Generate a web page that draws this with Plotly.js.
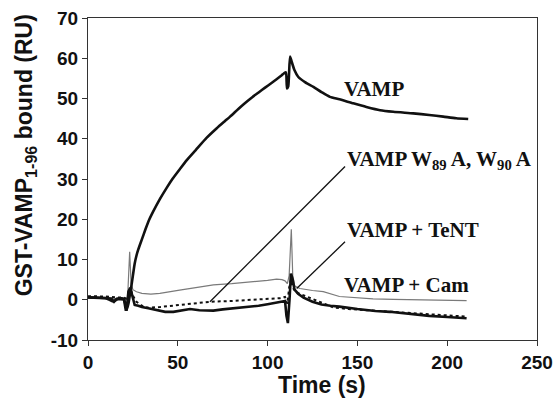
<!DOCTYPE html>
<html>
<head>
<meta charset="utf-8">
<script src="https://cdn.plot.ly/plotly-3.0.1.min.js"></script>
<style>html,body{margin:0;padding:0;background:#fff;}#chart{width:553px;height:403px;}</style>
</head>
<body>
<div id="chart"></div>
<script>
// VAMP (thick black, large binding)
const vampT = [0, 5, 10, 14, 17, 20, 21.5, 22.5, 23.4, 24, 25, 26, 27, 28, 30, 32, 34, 36.4, 40, 43.8, 47, 51.2, 55, 60, 66, 71.7, 76, 79.1, 83.7, 87, 91.1, 95, 98.6, 102, 105, 107.9, 109, 110.2, 110.8, 111.5, 112.5, 113.5, 115, 117, 121, 125.5, 130, 134.7, 140, 147.7, 155, 162.6, 170, 181.1, 190, 197.8, 205, 211.7];
const vampY = [0.6, 0.5, 0.4, -0.4, 0.3, 0.2, -2.5, -1.0, 1.5, 3, 6, 9, 11, 12.5, 15, 17.5, 19.8, 22, 25, 27.8, 30, 32.5, 34.7, 37.2, 40.2, 42.6, 44.3, 45.5, 47.4, 48.7, 50.2, 51.5, 52.7, 53.8, 54.8, 55.8, 56.2, 56.5, 52.5, 53, 60.4, 59, 57, 55.4, 54, 52.9, 51.6, 50.4, 49.8, 48.8, 47.9, 47.1, 46.7, 46.3, 45.9, 45.5, 45.1, 44.9];

// VAMP + Cam (thin grey)
const camT = [0, 5, 10, 14, 17, 20, 22, 23.2, 24, 25, 27, 30, 35, 40, 45, 51, 60, 69.8, 80, 88.3, 95, 100, 105, 108, 109.7, 111, 112, 113.2, 114, 115, 116, 118, 125, 131, 140, 150, 158.7, 170, 186.6, 200, 210.8];
const camY = [0.7, 0.6, 0.5, 0.2, 0.4, 0.3, 0, 11.9, 4, 2.5, 2.0, 1.6, 1.4, 1.6, 2.0, 2.4, 3.0, 3.7, 4.0, 4.3, 4.6, 4.8, 5.1, 5.0, 4.7, 4.0, 6, 17.5, 6, 3.5, 3.2, 2.8, 2.3, 2.0, 0.8, 0.4, 0.2, 0.1, 0, -0.1, -0.2];

// VAMP W89A, W90A (dotted)
const mutT = [0, 5, 10, 15, 20, 22, 23.5, 25, 27, 30, 33.5, 40, 51.2, 60, 68, 80, 88.3, 100, 106.9, 109.7, 111, 112, 113, 114, 116, 121.7, 130, 136.5, 145, 155, 170, 185, 200, 211];
const mutY = [0.9, 0.9, 0.8, 0.6, 0.5, 0.2, 3, 1, -0.5, -1.5, -2.0, -1.8, -1.3, -0.9, -0.5, -0.3, -0.1, 0.2, 0.4, 0.7, -1, 3, 5, 3, 1.8, 0.8, -0.7, -1.9, -2.3, -2.6, -3.0, -3.5, -3.9, -4.2];

// VAMP + TeNT (thick black, low)
const tentT = [0, 5, 10, 13, 14.5, 16, 20, 21, 21.5, 22.5, 23.5, 25, 26, 28, 30, 33.6, 38, 43, 47.5, 52, 56.8, 62, 69.8, 75, 80, 88.3, 95, 100, 105, 109.7, 110.5, 111.3, 112.2, 113, 114, 115, 117, 120, 125, 130, 135, 140, 150, 160, 168, 180, 190, 200, 210.8];
const tentY = [0.6, 0.5, 0.4, 0.3, -0.5, 0.2, 0.1, -2.5, -2.5, 2, 3, 0, -1.3, -1.5, -1.8, -2.1, -2.6, -3.0, -3.0, -2.7, -2.3, -2.6, -2.7, -2.4, -2.2, -1.9, -1.5, -1.1, -0.7, -0.3, -4, -5.8, 0, 6.5, 5, 2.5, 1.5, 0.5, -0.5, -1.2, -1.5, -1.7, -2.3, -2.8, -3.0, -3.6, -4.0, -4.3, -4.6];

const xTicks = [0, 50, 100, 150, 200, 250];
const yTicks = [-10, 0, 10, 20, 30, 40, 50, 60, 70];

const labelFont = {family: 'Liberation Serif, Times New Roman, serif', size: 21, color: '#111', weight: 'bold'};
const axisFont = {family: 'Liberation Sans, Arial, sans-serif', size: 19, color: '#111', weight: 'bold'};
const titleFont = {family: 'Liberation Sans, Arial, sans-serif', size: 23, color: '#111', weight: 'bold'};

const traces = [
  {x: camT, y: camY, mode: 'lines', name: 'VAMP + Cam', line: {color: '#7a7a7a', width: 1.2}},
  {x: mutT, y: mutY, mode: 'lines', name: 'VAMP W89A, W90A', line: {color: '#111', width: 2, dash: 'dot'}},
  {x: tentT, y: tentY, mode: 'lines', name: 'VAMP + TeNT', line: {color: '#111', width: 2.6}},
  {x: vampT, y: vampY, mode: 'lines', name: 'VAMP', line: {color: '#111', width: 2.6, shape: 'spline', smoothing: 0.6}}
];

const axisCommon = {
  showgrid: false, zeroline: false, showline: true, linecolor: '#333', linewidth: 1,
  mirror: true, ticks: 'outside', ticklen: 5, tickwidth: 1, tickcolor: '#333',
  tickfont: axisFont
};

const layout = {
  width: 553, height: 403,
  margin: {l: 88, r: 16, t: 18, b: 63},
  paper_bgcolor: '#fff', plot_bgcolor: '#fff',
  showlegend: false,
  xaxis: Object.assign({}, axisCommon, {range: [0, 250], tickvals: xTicks, ticktext: xTicks.map(String)}),
  yaxis: Object.assign({}, axisCommon, {range: [-10, 70], tickvals: yTicks, ticktext: yTicks.map(String)}),
  shapes: [
    {type: 'line', xref: 'x', yref: 'y', x0: 143.1, y0: 33.1, x1: 67.9, y1: -0.5, line: {color: '#111', width: 1.3}},
    {type: 'line', xref: 'x', yref: 'y', x0: 143.1, y0: 14.4, x1: 116.2, y1: 2.8, line: {color: '#111', width: 1.3}}
  ],
  annotations: [
    {text: 'VAMP', x: 141.3, y: 52.4, xref: 'x', yref: 'y', xanchor: 'left', yanchor: 'middle', showarrow: false, font: labelFont},
    {text: 'VAMP W<sub>89</sub> A, W<sub>90</sub> A', x: 143.1, y: 34.6, xref: 'x', yref: 'y', xanchor: 'left', yanchor: 'middle', showarrow: false, font: labelFont},
    {text: 'VAMP + TeNT', x: 143.1, y: 17.3, xref: 'x', yref: 'y', xanchor: 'left', yanchor: 'middle', showarrow: false, font: labelFont},
    {text: 'VAMP + Cam', x: 141.3, y: 3.7, xref: 'x', yref: 'y', xanchor: 'left', yanchor: 'middle', showarrow: false, font: labelFont},
    {text: 'Time (s)', x: 0.522, y: -0.14, xref: 'paper', yref: 'paper', xanchor: 'center', yanchor: 'middle', showarrow: false, font: titleFont},
    {text: 'GST-VAMP<sub>1-96</sub> bound (RU)', x: -0.14, y: 0.574, xref: 'paper', yref: 'paper', xanchor: 'center', yanchor: 'middle', textangle: -90, showarrow: false, font: titleFont}
  ]
};

Plotly.newPlot('chart', traces, layout, {displayModeBar: false});
</script>
</body>
</html>
